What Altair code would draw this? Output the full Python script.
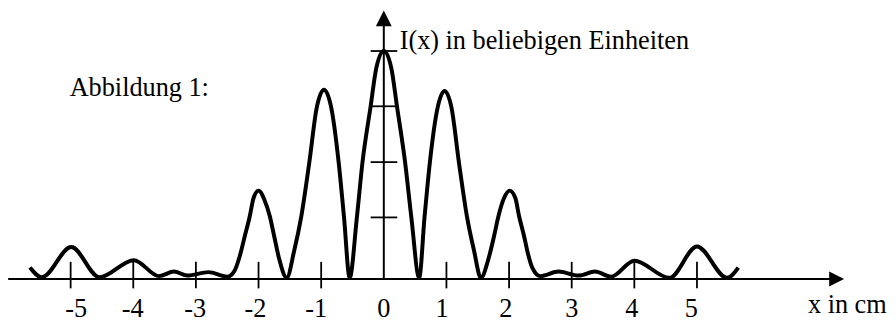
import altair as alt
import pandas as pd

# ---- data ----
CURVE_X = [-5.65, -5.46, -4.99, -4.54, -3.99, -3.59, -3.35, -3.14, -2.80, -2.50,
           -2.38, -2.30, -2.22, -2.14, -2.08, -2.00, -1.91, -1.82, -1.75, -1.67,
           -1.55, -1.43, -1.32, -1.19, -1.07, -0.955, -0.84, -0.72, -0.635, -0.545,
           -0.43, -0.34, -0.21, -0.12, 0.0,
           0.12, 0.21, 0.34, 0.44, 0.565, 0.65, 0.735, 0.86, 0.97, 1.08,
           1.20, 1.33, 1.44, 1.55, 1.67, 1.76, 1.83, 1.92, 2.01, 2.10,
           2.16, 2.24, 2.30, 2.37, 2.50, 2.79, 3.11, 3.37, 3.63, 4.00,
           4.56, 5.00, 5.48, 5.66]
CURVE_I = [0.20, 0.03, 0.56, 0.03, 0.33, 0.05, 0.13, 0.06, 0.12, 0.04,
           0.15, 0.40, 0.75, 1.10, 1.42, 1.55, 1.40, 1.10, 0.75, 0.35,
           0.02, 0.50, 1.08, 2.04, 3.01, 3.32, 3.01, 2.04, 1.08, 0.02,
           1.08, 2.05, 3.03, 3.70, 4.00,
           3.70, 3.03, 2.05, 1.08, 0.02, 1.08, 2.04, 3.01, 3.30, 3.01,
           2.04, 1.08, 0.50, 0.02, 0.35, 0.75, 1.10, 1.42, 1.55, 1.42,
           1.10, 0.75, 0.45, 0.20, 0.05, 0.13, 0.06, 0.13, 0.04, 0.32,
           0.02, 0.57, 0.02, 0.20]

X_TICKS = [-5, -4, -3, -2, -1, 1, 2, 3, 4, 5]
X_LABELS = ["-5", "-4", "-3", "-2", "-1", "0", "1", "2", "3", "4", "5"]
X_LABEL_POS = [-4.91, -4.01, -3.01, -2.05, -1.08, 0.0, 0.93, 1.95, 3.0, 3.96, 4.91]
Y_TICKS = [1.08, 2.05, 3.03, 4.0]

X_TITLE = "x in cm"
Y_TITLE = "I(x) in beliebigen Einheiten"
CAPTION = "Abbildung 1:"

# ---- scales ----
XS = alt.Scale(domain=[-6.0, 8.05], nice=False, zero=False)
YS = alt.Scale(domain=[-0.748, 4.730], nice=False, zero=False)
FONT = "Liberation Serif"
FS = 26.5


def X(f):
    return alt.X(f, type="quantitative", scale=XS, axis=None)


def Y(f):
    return alt.Y(f, type="quantitative", scale=YS, axis=None)


curve_df = pd.DataFrame({"x": CURVE_X, "I": CURVE_I})
curve = alt.Chart(curve_df).mark_line(
    color="black", strokeWidth=4, interpolate="monotone"
).encode(x=X("x"), y=Y("I"))

xaxis = alt.Chart(pd.DataFrame({"x": [-5.997], "x2": [7.2], "y": [0.0]})).mark_rule(
    color="black", strokeWidth=2
).encode(x=X("x"), x2="x2", y=Y("y"))

yaxis = alt.Chart(pd.DataFrame({"x": [0.0], "y": [0.0], "y2": [4.45]})).mark_rule(
    color="black", strokeWidth=2
).encode(x=X("x"), y=Y("y"), y2="y2")

xt_df = pd.DataFrame({"x": X_TICKS})
xt_df["y"] = 0.30
xt_df["y2"] = -0.165
xticks = alt.Chart(xt_df).mark_rule(color="black", strokeWidth=1.8).encode(
    x=X("x"), y=Y("y"), y2="y2"
)

yt_df = pd.DataFrame({"y": Y_TICKS})
yt_df["x"] = -0.21
yt_df["x2"] = 0.215
yticks = alt.Chart(yt_df).mark_rule(color="black", strokeWidth=1.8).encode(
    x=X("x"), x2="x2", y=Y("y")
)

up_arrow = alt.Chart(pd.DataFrame({"x": [0.0], "y": [4.574]})).mark_point(
    shape="M0,-1L1,1L-1,1Z", size=256, filled=True, color="black", opacity=1, strokeWidth=0
).encode(x=X("x"), y=Y("y"))

right_arrow = alt.Chart(pd.DataFrame({"x": [7.23], "y": [0.0]})).mark_point(
    shape="M1,0L-1,-1L-1,1Z", size=225, filled=True, color="black", opacity=1, strokeWidth=0
).encode(x=X("x"), y=Y("y"))

lab_df = pd.DataFrame({"x": X_LABEL_POS, "t": X_LABELS})
lab_df["y"] = -0.661
labels = alt.Chart(lab_df).mark_text(
    font=FONT, fontSize=FS, color="black", align="center", baseline="alphabetic"
).encode(x=X("x"), y=Y("y"), text="t:N")


def note(txt, x, y):
    return alt.Chart(pd.DataFrame({"x": [x], "y": [y], "t": [txt]})).mark_text(
        font=FONT, fontSize=FS, color="black", align="left", baseline="alphabetic"
    ).encode(x=X("x"), y=Y("y"), text="t:N")


xtitle = note(X_TITLE, 6.772, -0.591)
ytitle = note(Y_TITLE, 0.253, 4.035)
caption = note(CAPTION, -5.016, 3.217)

chart = alt.layer(
    xaxis, yaxis, xticks, yticks, curve, up_arrow, right_arrow,
    labels, xtitle, ytitle, caption
).properties(
    width=888, height=315, padding=0,
    autosize=alt.AutoSizeParams(type="none"),
    background="white",
).configure_view(stroke=None)

chart.save("out.html", embed_options={"renderer": "svg", "actions": False})
